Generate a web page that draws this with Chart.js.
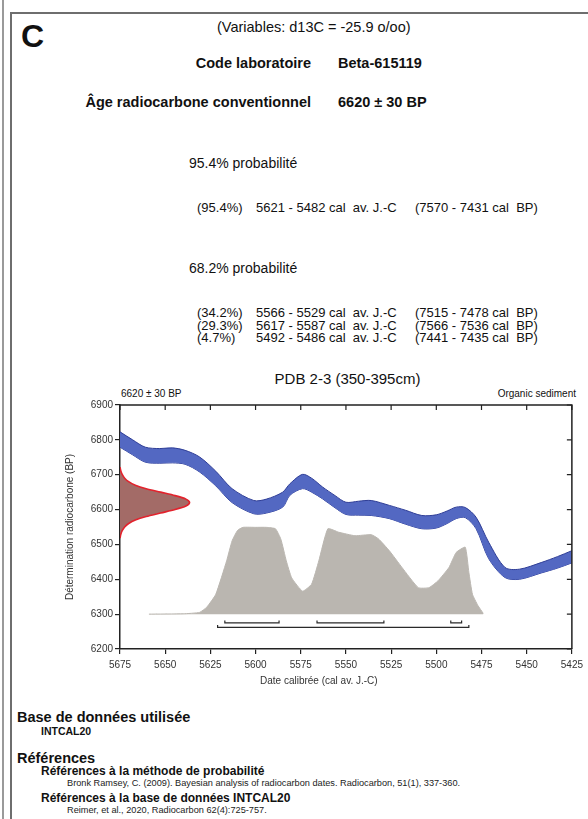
<!DOCTYPE html>
<html lang="fr">
<head>
<meta charset="utf-8">
<title>PDB 2-3 (350-395cm)</title>
<script src="https://cdn.jsdelivr.net/npm/chart.js@4.4.1/dist/chart.umd.min.js"></script>
<style>
  html, body { margin: 0; padding: 0; background: #fff; }
  body { width: 588px; height: 819px; position: relative; overflow: hidden;
         font-family: "Liberation Sans", Arial, sans-serif; color: #111; }
  .t { position: absolute; white-space: pre; line-height: 1; }
  .b { font-weight: bold; }
  .line { position: absolute; background: #777; }
  #wrap { position: absolute; left: 55px; top: 360px; width: 533px; height: 330px; }
</style>
</head>
<body>
<div class="line" style="left:2px;top:0;width:2px;height:819px;background:#9a9a9a"></div>
<div class="line" style="left:10px;top:12px;width:2px;height:807px;background:#6e6e6e"></div>
<div class="line" style="left:10px;top:12px;width:578px;height:2px;background:#6e6e6e"></div>

<div class="t b" style="left:21px;top:20px;font-size:32px">C</div>
<div class="t" style="left:217px;top:20px;font-size:14.5px">(Variables: d13C = -25.9 o/oo)</div>

<div class="t b" style="right:277px;top:56px;font-size:14.5px">Code laboratoire</div>
<div class="t b" style="left:338px;top:56px;font-size:14.5px">Beta-615119</div>
<div class="t b" style="right:277px;top:95px;font-size:14.5px">Âge radiocarbone conventionnel</div>
<div class="t b" style="left:338px;top:95px;font-size:14.5px">6620 ± 30 BP</div>

<div class="t" style="left:189px;top:156px;font-size:14px">95.4% probabilité</div>
<div class="t" style="left:197px;top:201px;font-size:13px">(95.4%)</div>
<div class="t" style="left:256px;top:201px;font-size:13px">5621 - 5482 cal  av. J.-C</div>
<div class="t" style="left:415px;top:201px;font-size:13px">(7570 - 7431 cal  BP)</div>

<div class="t" style="left:189px;top:261px;font-size:14px">68.2% probabilité</div>
<div class="t" style="left:197px;top:306px;font-size:13px">(34.2%)</div>
<div class="t" style="left:256px;top:306px;font-size:13px">5566 - 5529 cal  av. J.-C</div>
<div class="t" style="left:415px;top:306px;font-size:13px">(7515 - 7478 cal  BP)</div>
<div class="t" style="left:197px;top:319px;font-size:13px">(29.3%)</div>
<div class="t" style="left:256px;top:319px;font-size:13px">5617 - 5587 cal  av. J.-C</div>
<div class="t" style="left:415px;top:319px;font-size:13px">(7566 - 7536 cal  BP)</div>
<div class="t" style="left:197px;top:331px;font-size:13px">(4.7%)</div>
<div class="t" style="left:256px;top:331px;font-size:13px">5492 - 5486 cal  av. J.-C</div>
<div class="t" style="left:415px;top:331px;font-size:13px">(7441 - 7435 cal  BP)</div>

<div class="t" style="left:120px;width:455px;text-align:center;top:371px;font-size:15px">PDB 2-3 (350-395cm)</div>
<div class="t" style="left:121px;top:389px;font-size:10px">6620 ± 30 BP</div>
<div class="t" style="right:12px;top:389px;font-size:10px">Organic sediment</div>

<div id="wrap"><canvas id="chart" width="533" height="330"></canvas></div>
<div class="t" style="left:260px;top:676px;font-size:10px;color:#333">Date calibrée (cal av. J.-C)</div>

<div class="t b" style="left:17px;top:710px;font-size:14.5px">Base de données utilisée</div>
<div class="t b" style="left:41px;top:726px;font-size:10.5px">INTCAL20</div>
<div class="t b" style="left:17px;top:751px;font-size:14.5px">Références</div>
<div class="t b" style="left:41px;top:765px;font-size:12px">Références à la méthode de probabilité</div>
<div class="t" style="left:67px;top:779px;font-size:9.2px;color:#222">Bronk Ramsey, C. (2009). Bayesian analysis of radiocarbon dates. Radiocarbon, 51(1), 337-360.</div>
<div class="t b" style="left:41px;top:792px;font-size:12px">Références à la base de données INTCAL20</div>
<div class="t" style="left:67px;top:806px;font-size:9.2px;color:#222">Reimer, et al., 2020, Radiocarbon 62(4):725-757.</div>

<script>
// calibration curve (INTCAL20 band), cal av. J.-C vs BP
const calYears = [5675, 5668, 5661, 5653, 5646, 5639, 5631, 5622, 5613, 5601, 5594, 5585, 5581, 5574, 5569, 5563, 5556, 5550, 5543, 5536, 5526, 5517, 5508, 5500, 5494, 5489, 5484, 5478, 5471, 5462, 5454, 5442, 5433, 5425]
const calUpper = [6823, 6800, 6779, 6775, 6777, 6770, 6751, 6710, 6660, 6626, 6630, 6650, 6674, 6701, 6690, 6665, 6640, 6621, 6624, 6626, 6612, 6598, 6583, 6585, 6596, 6607, 6606, 6578, 6506, 6434, 6429, 6448, 6465, 6482]
const calLower = [6779, 6757, 6736, 6733, 6734, 6730, 6708, 6668, 6620, 6588, 6590, 6607, 6641, 6660, 6650, 6631, 6605, 6586, 6584, 6583, 6574, 6558, 6545, 6547, 6560, 6574, 6577, 6545, 6459, 6405, 6400, 6418, 6432, 6447]

// radiocarbon determination 6620 +/- 30 BP (red curve on the y axis)
const c14BP = [6722, 6710, 6700, 6690, 6680, 6670, 6660, 6650, 6640, 6630, 6620, 6610, 6600, 6590, 6580, 6570, 6560, 6550, 6540, 6530, 6518]
const c14Cal = [5675, 5674.5, 5673.7, 5672.4, 5670.2, 5666.5, 5660.5, 5652.5, 5644.5, 5638.5, 5636.5, 5638.5, 5644.5, 5652.5, 5660.5, 5666.5, 5670.2, 5672.4, 5673.7, 5674.5, 5675]

// calibrated probability distribution (grey)
const distYears = [5659, 5640, 5631, 5627, 5622, 5616, 5613, 5610, 5607, 5600, 5594, 5589, 5586, 5583, 5580, 5574, 5569, 5565, 5560, 5554, 5545, 5536, 5532, 5526, 5519, 5510, 5504, 5499, 5493, 5489, 5484, 5482, 5480, 5477, 5474]
const distVals = [6300, 6301, 6305, 6320, 6357, 6453, 6510, 6540, 6549, 6549, 6549, 6545, 6515, 6453, 6404, 6366, 6386, 6453, 6545, 6535, 6525, 6528, 6516, 6482, 6434, 6376, 6376, 6396, 6434, 6477, 6492, 6420, 6357, 6325, 6302]

// ranges
const range95 = [[5621, 5482]]
const range68 = [[5566, 5529], [5617, 5587], [5492, 5486]]

const xTicks = [5675, 5650, 5625, 5600, 5575, 5550, 5525, 5500, 5475, 5450, 5425]
const yTicks = [6200, 6300, 6400, 6500, 6600, 6700, 6800, 6900]

const FONT = '"Liberation Sans", Arial, sans-serif'
const distBase = 6300
const level68 = 6275, level95 = 6262, bracketUp = 7

function pts(xs, ys) {
  return xs.map((x, i) => ({x: x, y: ys[i]}))
}

function bracket(r, lvl) {
  return {
    data: [{x: r[0], y: lvl + bracketUp}, {x: r[0], y: lvl}, {x: r[1], y: lvl}, {x: r[1], y: lvl + bracketUp}],
    borderColor: '#2a2a2a', borderWidth: 1.2, pointRadius: 0, fill: false, tension: 0
  }
}

const datasets = [
  {
    data: pts(calYears, calUpper), borderColor: '#2e3d96', borderWidth: 1,
    backgroundColor: '#5368c2', fill: '+1', pointRadius: 0, tension: 0.3
  },
  {
    data: pts(calYears, calLower), borderColor: '#2e3d96', borderWidth: 1,
    fill: false, pointRadius: 0, tension: 0.3
  },
  {
    data: pts(c14Cal, c14BP), indexAxis: 'y', borderColor: '#e2232d', borderWidth: 1.6,
    backgroundColor: '#a36b67', fill: {value: 5675}, pointRadius: 0,
    cubicInterpolationMode: 'monotone'
  },
  {
    data: pts(distYears, distVals), borderColor: '#bab6b0', borderWidth: 1,
    backgroundColor: '#bab6b0', fill: {value: distBase}, pointRadius: 0, tension: 0.15
  }
]
range68.forEach(r => datasets.push(bracket(r, level68)))
range95.forEach(r => datasets.push(bracket(r, level95)))

// top and right border with inward ticks
const frame = {
  id: 'frame',
  afterDraw(chart) {
    const {ctx, chartArea: a, scales} = chart
    ctx.save()
    ctx.strokeStyle = '#222'
    ctx.lineWidth = 1.5
    ctx.beginPath()
    ctx.moveTo(a.left, a.top); ctx.lineTo(a.right, a.top); ctx.lineTo(a.right, a.bottom)
    ctx.stroke()
    ctx.lineWidth = 1.2
    ctx.beginPath()
    xTicks.forEach(v => {
      const px = scales.x.getPixelForValue(v)
      ctx.moveTo(px, a.top); ctx.lineTo(px, a.top + 5)
    })
    yTicks.forEach(v => {
      const py = scales.y.getPixelForValue(v)
      ctx.moveTo(a.right, py); ctx.lineTo(a.right - 5, py)
    })
    ctx.stroke()
    ctx.restore()
  }
}

new Chart(document.getElementById('chart'), {
  type: 'line',
  data: {datasets: datasets},
  plugins: [frame],
  options: {
    responsive: false,
    animation: false,
    layout: {padding: {top: 45, right: 13, left: 0, bottom: 0}},
    plugins: {legend: {display: false}, tooltip: {enabled: false}},
    scales: {
      x: {
        type: 'linear', reverse: true, min: 5425, max: 5675,
        afterBuildTicks: s => { s.ticks = xTicks.map(v => ({value: v})) },
        ticks: {font: {size: 10, family: FONT}, color: '#333', padding: 5, maxRotation: 0,
                callback: v => String(v)},
        grid: {drawOnChartArea: false, tickLength: 5, color: '#222', lineWidth: 1.2},
        border: {color: '#222', width: 1.5},
        afterFit: s => { s.height = 41 }
      },
      y: {
        type: 'linear', min: 6200, max: 6900,
        afterBuildTicks: s => { s.ticks = yTicks.map(v => ({value: v})) },
        ticks: {font: {size: 10, family: FONT}, color: '#333', padding: 2,
                callback: v => String(v)},
        grid: {drawOnChartArea: false, tickLength: 5, color: '#222', lineWidth: 1.2},
        border: {color: '#222', width: 1.5},
        title: {display: true, text: 'Détermination radiocarbone (BP)', color: '#333',
                font: {size: 10, family: FONT}, padding: {top: 9, bottom: 0}},
        afterFit: s => { s.width = 65 }
      }
    }
  }
})
</script>
</body>
</html>
